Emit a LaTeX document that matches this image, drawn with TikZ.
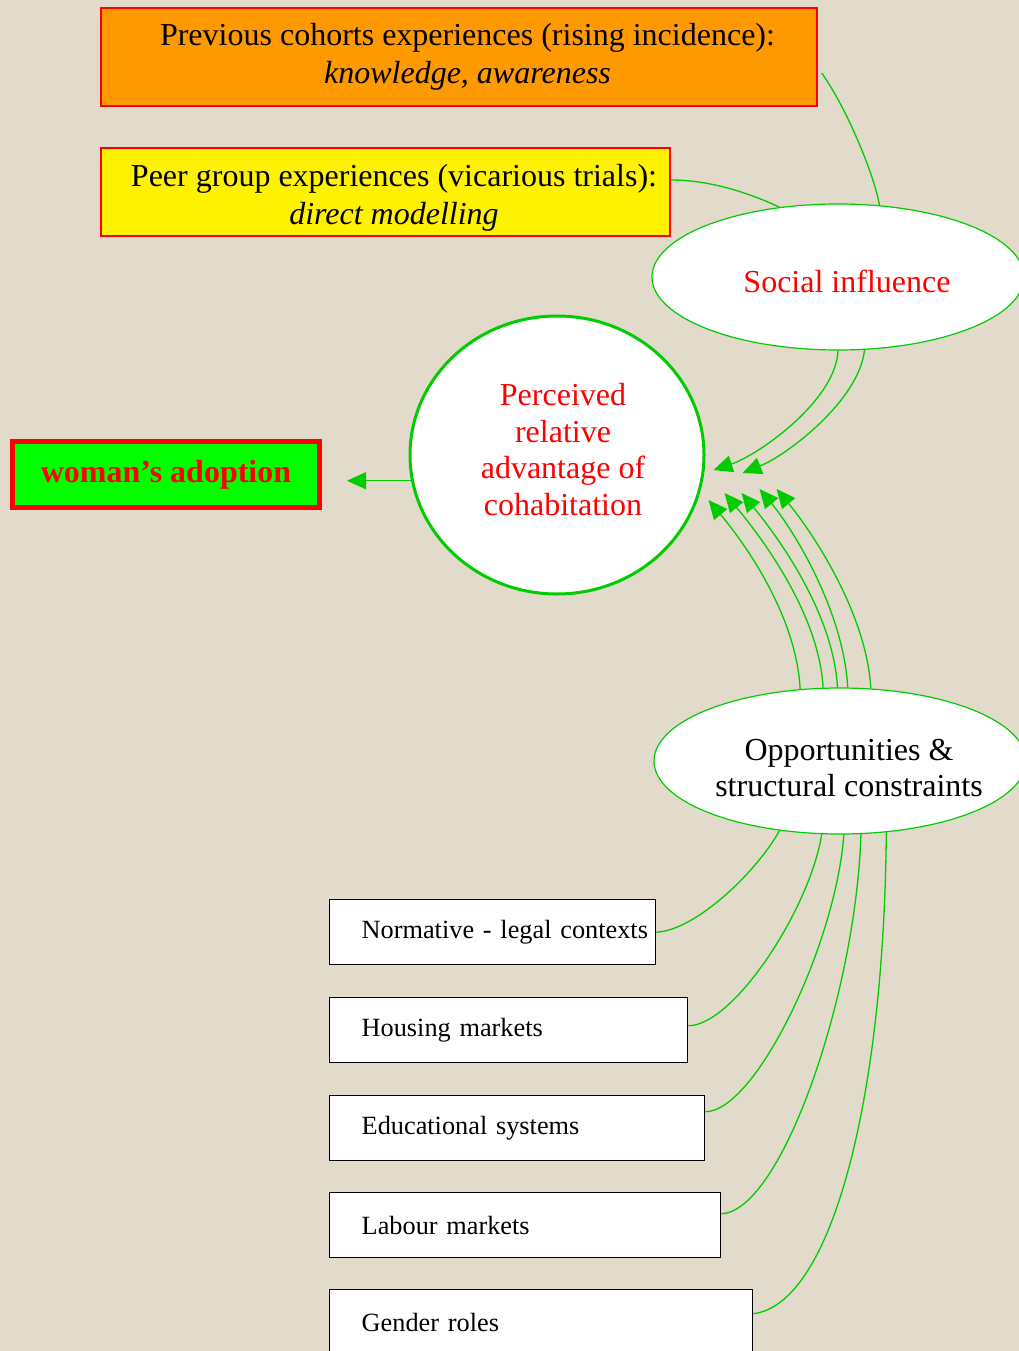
\documentclass[tikz,border=0pt]{standalone}
\usepackage{fontspec}
\setmainfont{Liberation Serif}
\usepackage{xcolor}
\usetikzlibrary{arrows.meta,backgrounds,calc,positioning,shapes.geometric}

\definecolor{paper}{RGB}{226,218,202}
\definecolor{lgreen}{RGB}{0,204,0}
\definecolor{dorange}{RGB}{255,153,0}

\begin{document}
\begin{tikzpicture}[x=1pt,y=-1pt,
	topbox/.style={draw=red,line width=1.3pt,inner sep=0pt},
	toptext/.style={align=center,inner sep=0pt,font=\fontsize{32}{38}\selectfont},
	factor/.style={draw=black,line width=1.4pt,fill=white,minimum height=65pt,anchor=north west,inner xsep=0pt,inner ysep=0pt,text width=#1,align=left,execute at begin node={\hspace*{32pt}},font=\fontsize{26.3}{30}\selectfont},
	blob/.style={ellipse,draw=lgreen,line width=1.2pt,fill=white,minimum width=372pt,minimum height=146pt,inner sep=0pt},
	blobtext/.style={align=center,inner sep=0pt,font=\fontsize{32}{36}\selectfont},
	link/.style={draw=lgreen,line width=1.3pt},
	flow/.style={link,-{Triangle[length=19pt,width=17pt]}}]
	\useasboundingbox (0,0) rectangle (1019,1351);
	\clip (0,0) rectangle (1019,1351);
	\begin{scope}[on background layer]
		\fill[paper] (0,0) rectangle (1019,1351);
	\end{scope}
	% sources of influence
	\node[topbox,fill=dorange,minimum width=716pt,minimum height=98pt] (prev) at (459,57) {};
	\node[toptext] (prevtext) at (467.5,57) {Previous cohorts experiences (rising incidence):\\ \textit{knowledge, awareness}};
	\node[topbox,fill=yellow,minimum width=569pt,minimum height=88pt] (peer) at (385.5,192) {};
	\node[toptext] (peertext) at (394,198) {Peer group experiences (vicarious trials):\\ \textit{direct modelling}};
	% outcome
	\node[draw=red,line width=5pt,fill=green,minimum width=307pt,minimum height=66pt,inner sep=0pt,text=red,font=\fontsize{32}{36}\selectfont\bfseries] (woman) at (166,474.5) {woman’s adoption};
	% structural factors
	\node[factor=326pt] (norm) at (329,899) {Normative - legal contexts};
	\node[factor=358pt] (house) at (329,997) {Housing markets};
	\node[factor=375pt] (edu) at (329,1095) {Educational systems};
	\node[factor=391pt] (labour) at (329,1192) {Labour markets};
	\node[factor=423pt] (gender) at (329,1289) {Gender roles};
	% the three factors
	\node[blob] (social) at (838,277) {};
	\node[blobtext,text=red] (socialtext) at (847,281) {Social influence};
	\node[blob] (opp) at (840,761) {};
	\node[blobtext] (opptext) at (849,768) {Opportunities \&\\ structural constraints};
	\node[ellipse,draw=lgreen,line width=3pt,fill=white,minimum width=294pt,minimum height=278pt,inner sep=0pt] (adv) at (557,455) {};
	\node[blobtext,text=red,font=\fontsize{32}{36.5}\selectfont] (advtext) at (563,449.5) {Perceived\\ relative\\ advantage of\\ cohabitation};
	% connectors into the ellipses
	\begin{scope}[on background layer]
		\draw[link] ([shift={(4pt,-16pt)}]prev.east) .. controls +(25,35) and +(-5,-30) .. (social.60.7);
		\draw[link] ([yshift=12pt]peer.east) .. controls +(40,0) and +(-30,-14) .. (social.130.5);
		\draw[link] (norm.east) .. controls +(40,-2) and +(-22,40) .. (opp.229);
		\draw[link] ([yshift=4.5pt]house.east) .. controls +(45,0) and +(-12,75) .. (opp.256.1);
		\draw[link] ([yshift=16.5pt]edu.east) .. controls +(50,0) and +(-8,110) .. (opp.273.9);
		\draw[link] ([yshift=11.5pt]labour.east) .. controls +(60,-2) and +(-5,160) .. (opp.286.9);
		\draw[link] ([yshift=8.5pt]gender.east) .. controls +(80,-10) and +(-2,260) .. (opp.303.7);
	\end{scope}
	\draw[flow] (social.270) .. controls +(-2,50) and +(45,-15) .. ($(adv.east)+(8,15)$);
	\draw[flow] (social.-70) .. controls +(-5,50) and +(45,-18) .. ($(adv.east)+(37,18)$);
	\foreach \a/\dx/\dy in {119.3/3/45,103.2/19/38,92.4/36/38,84.5/54/34,67.4/71/34}
		\draw[flow] (opp.\a) .. controls +(-4,-75) and +(35,42) .. ($(adv.east)+(\dx,\dy)$);
	\draw[flow] (adv.190) -- ([xshift=25pt]woman.east |- adv.190);
\end{tikzpicture}
\end{document}
